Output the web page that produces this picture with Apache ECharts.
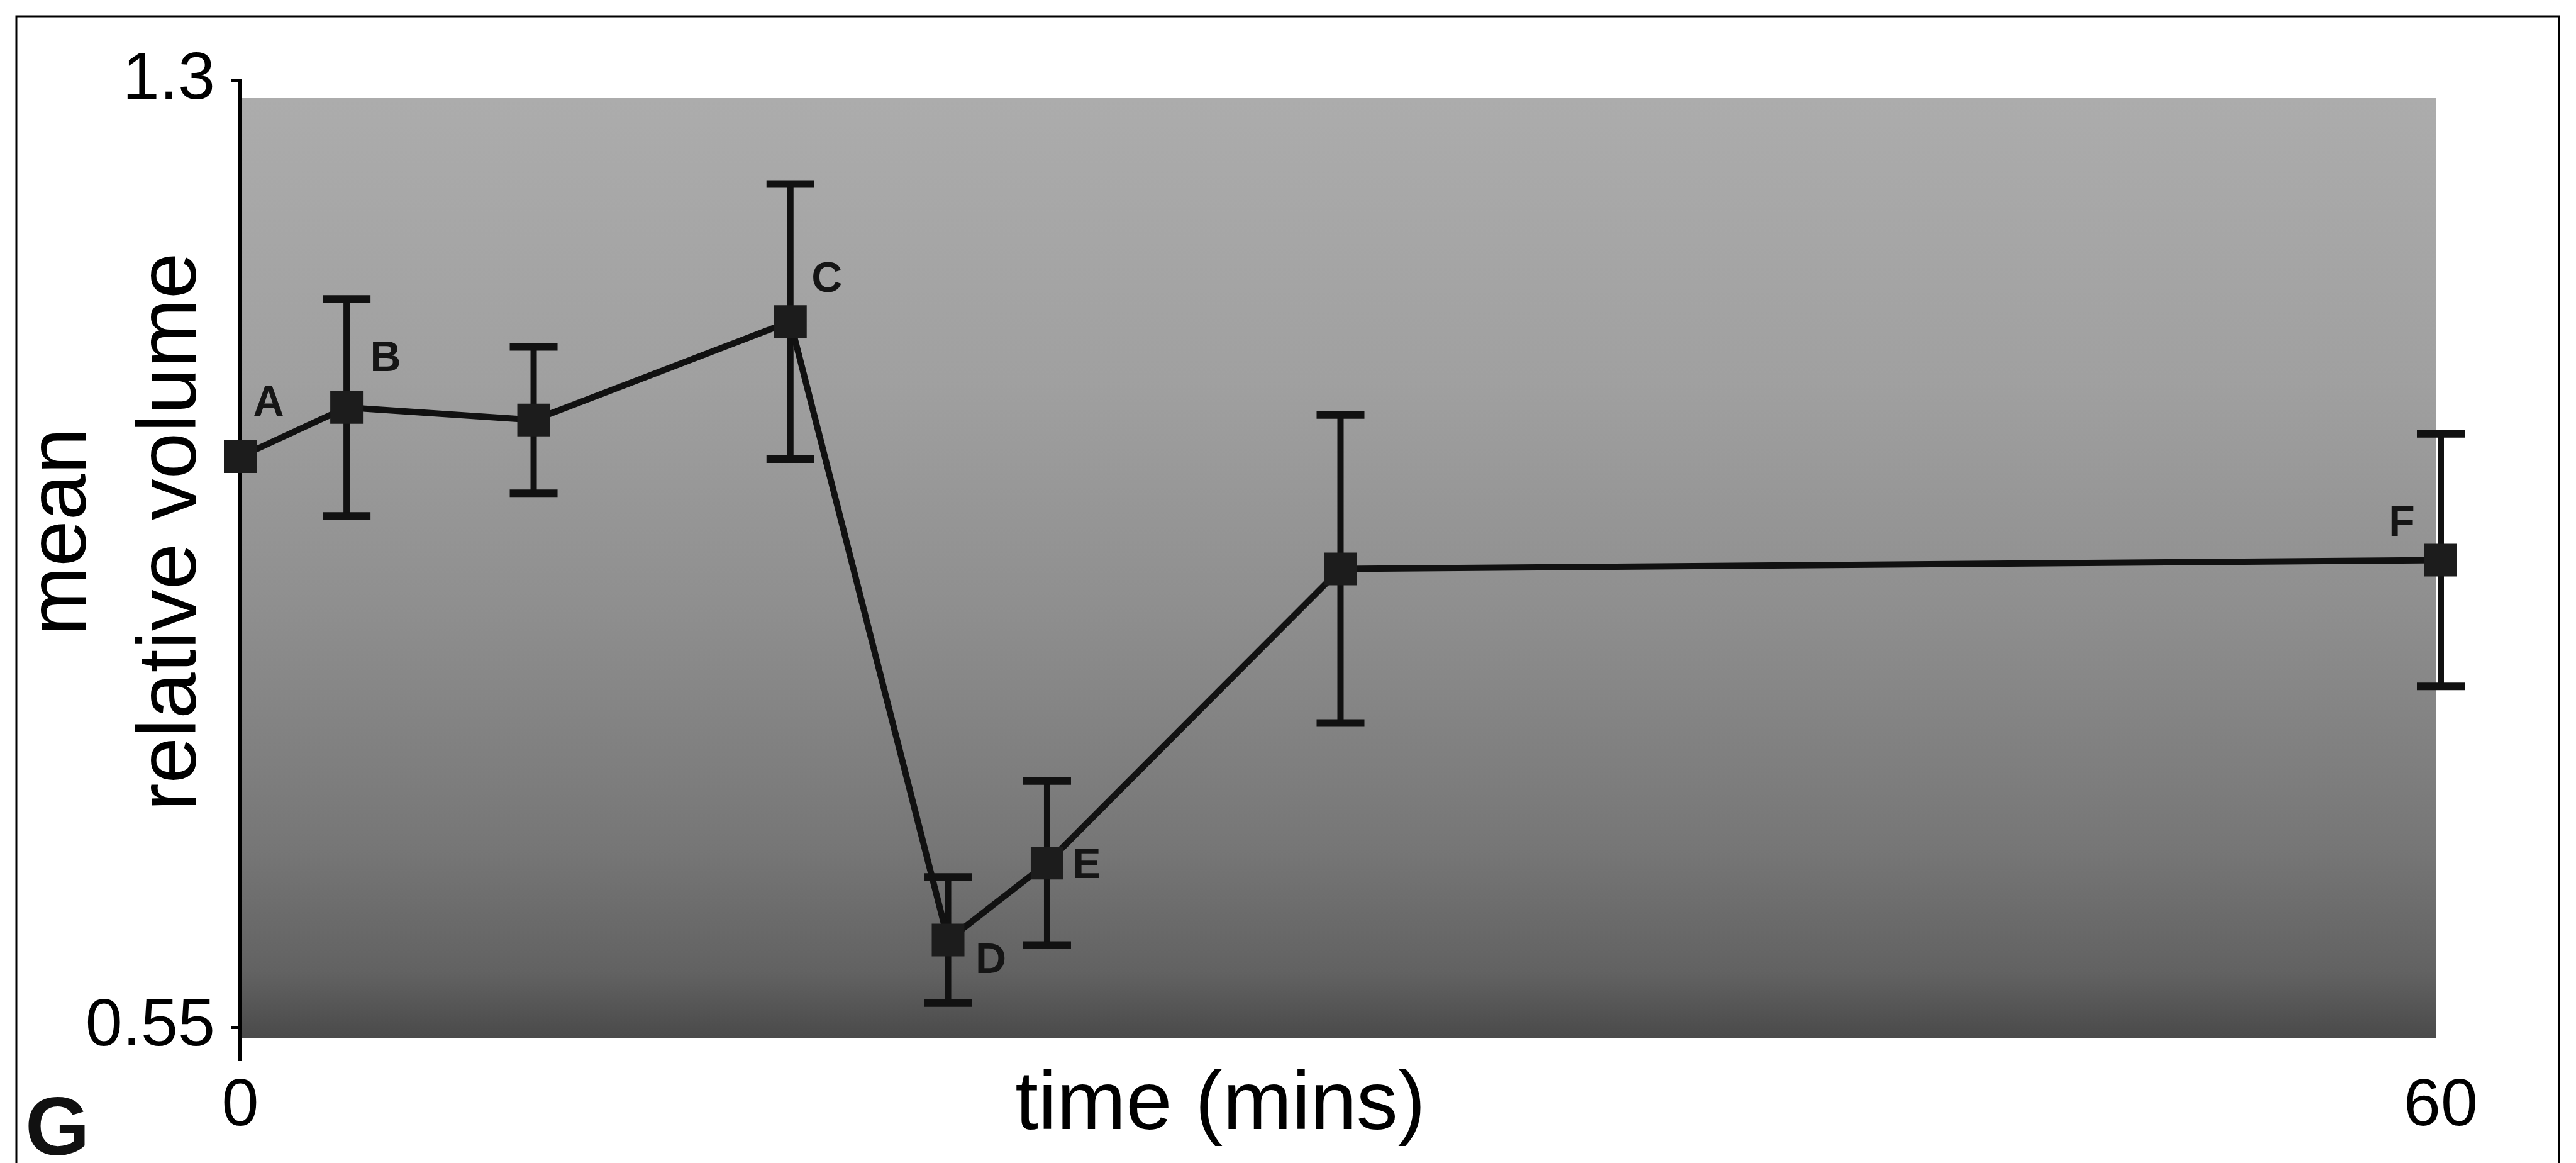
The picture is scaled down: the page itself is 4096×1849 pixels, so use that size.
<!DOCTYPE html>
<html>
<head>
<meta charset="utf-8">
<script src="https://cdn.jsdelivr.net/npm/echarts@6/dist/echarts.min.js"></script>
<style>
    html, body { margin: 0; padding: 0; background: #fff; }
    #main { width: 4096px; height: 1849px; }
</style>
</head>
<body>
<div id="main"></div>
<script>
// values
const times = [0, 2.9, 8, 15, 19.3, 22, 30, 60]          // mins
const means = [1.002, 1.041, 1.031, 1.109, 0.619, 0.680, 0.913, 0.920]
const errors = [0, 0.086, 0.058, 0.109, 0.05, 0.065, 0.122, 0.10]
const pointLabels = ['A', 'B', '', 'C', 'D', 'E', '', 'F']
const xTicks = [0, 60]
const yTicks = [0.55, 1.3]

// where each letter sits next to its marker (px)
const labelOffset = { A: [45, -84], B: [62, -76], C: [58, -66], D: [68, 34], E: [63, 5], F: [-62, -57] }

const FONT = '"Liberation Sans", Arial, sans-serif'

var myChart = echarts.init(document.getElementById('main'))

let lineData = times.map((t, i) => {
    let item = { value: [t, means[i]] }
    let l = pointLabels[i]
    if (l) item.label = { show: true, formatter: l, offset: labelOffset[l] }
    return item
})

let errData = []
times.forEach((t, i) => {
    if (errors[i] > 0) errData.push([t, means[i] - errors[i], means[i] + errors[i]])
})

function renderErr(params, api) {
    let lo = api.coord([api.value(0), api.value(1)])
    let hi = api.coord([api.value(0), api.value(2)])
    let w = 38
    let st = { stroke: '#111', lineWidth: 10 }
    let cap = { stroke: '#111', lineWidth: 12 }
    return {
        type: 'group',
        children: [
            { type: 'line', shape: { x1: lo[0], y1: hi[1], x2: lo[0], y2: lo[1] }, style: st },
            { type: 'line', shape: { x1: lo[0] - w, y1: hi[1], x2: lo[0] + w, y2: hi[1] }, style: cap },
            { type: 'line', shape: { x1: lo[0] - w, y1: lo[1], x2: lo[0] + w, y2: lo[1] }, style: cap }
        ]
    }
}

var option = {
    animation: false,
    backgroundColor: '#fff',
    grid: { left: 382, right: 215, top: 128, bottom: 216, containLabel: false, outerBoundsMode: 'none' },
    xAxis: {
        type: 'value',
        min: 0,
        max: 60,
        axisLine: { show: false },
        axisTick: { show: false },
        splitLine: { show: false },
        axisLabel: { customValues: xTicks, fontSize: 106, color: '#000', fontFamily: FONT, margin: 74 },
        name: 'time (mins)',
        nameLocation: 'middle',
        nameGap: 60,
        nameMoveOverlap: false,
        nameTextStyle: { fontSize: 132, color: '#000', fontFamily: FONT, padding: [0, 382, 0, 0] }
    },
    yAxis: {
        type: 'value',
        min: 0.55,
        max: 1.3,
        axisLine: { show: true, lineStyle: { color: '#000', width: 6 } },
        axisTick: { show: true, customValues: yTicks, length: 14, lineStyle: { color: '#000', width: 5 } },
        splitLine: { show: false },
        axisLabel: { customValues: yTicks, fontSize: 106, color: '#000', fontFamily: FONT, margin: 40 },
        name: 'mean\nrelative volume',
        nameLocation: 'middle',
        nameRotate: 90,
        nameGap: 20,
        nameMoveOverlap: false,
        nameTextStyle: { fontSize: 132, lineHeight: 175, color: '#000', fontFamily: FONT, padding: [0, 0, 0, 70] }
    },
    series: [
        {
            type: 'custom',
            renderItem: renderErr,
            data: errData,
            encode: { x: 0, y: [1, 2] },
            clip: false,
            z: 3
        },
        {
            type: 'line',
            data: lineData,
            symbol: 'rect',
            symbolSize: 52,
            clip: false,
            lineStyle: { color: '#111', width: 10 },
            itemStyle: { color: '#1c1c1c' },
            label: {
                show: false,
                position: 'inside',
                fontSize: 68,
                fontWeight: 'bold',
                color: '#151515',
                fontFamily: FONT
            },
            z: 4
        }
    ]
}

myChart.setOption(option)

// plot background, frame and panel letter, placed from the axis pixels
let pTop = myChart.convertToPixel({ gridIndex: 0 }, [0, 1.3])
let pBot = myChart.convertToPixel({ gridIndex: 0 }, [60, 0.55])
let bgLeft = pTop[0], bgTop = pTop[1] + 28
let bgRight = pBot[0] - 7, bgBottom = pBot[1] + 17

myChart.setOption({
    graphic: [
        {
            type: 'rect',
            z: -10,
            shape: { x: bgLeft, y: bgTop, width: bgRight - bgLeft, height: bgBottom - bgTop },
            style: {
                fill: {
                    type: 'linear', x: 0, y: 0, x2: 0, y2: 1,
                    colorStops: [
                        { offset: 0, color: '#acacac' },
                        { offset: 0.3, color: '#a0a0a0' },
                        { offset: 0.55, color: '#8e8e8e' },
                        { offset: 0.8, color: '#767676' },
                        { offset: 0.93, color: '#626262' },
                        { offset: 1, color: '#4a4a4a' }
                    ]
                }
            }
        },
        {
            type: 'line',
            z: 5,
            shape: { x1: bgLeft, y1: pBot[1], x2: bgLeft, y2: pBot[1] + 54 },
            style: { stroke: '#000', lineWidth: 6 }
        },
        {
            type: 'polyline',
            z: 5,
            shape: { points: [[26, 1849], [26, 26], [4069, 26], [4069, 1849]] },
            style: { stroke: '#000', lineWidth: 3, fill: null }
        },
        {
            type: 'text',
            z: 5,
            x: 40,
            y: 1800,
            style: { text: 'G', font: 'bold 132px "Liberation Sans", Arial, sans-serif', fill: '#111', verticalAlign: 'middle' }
        }
    ]
})
</script>
</body>
</html>
